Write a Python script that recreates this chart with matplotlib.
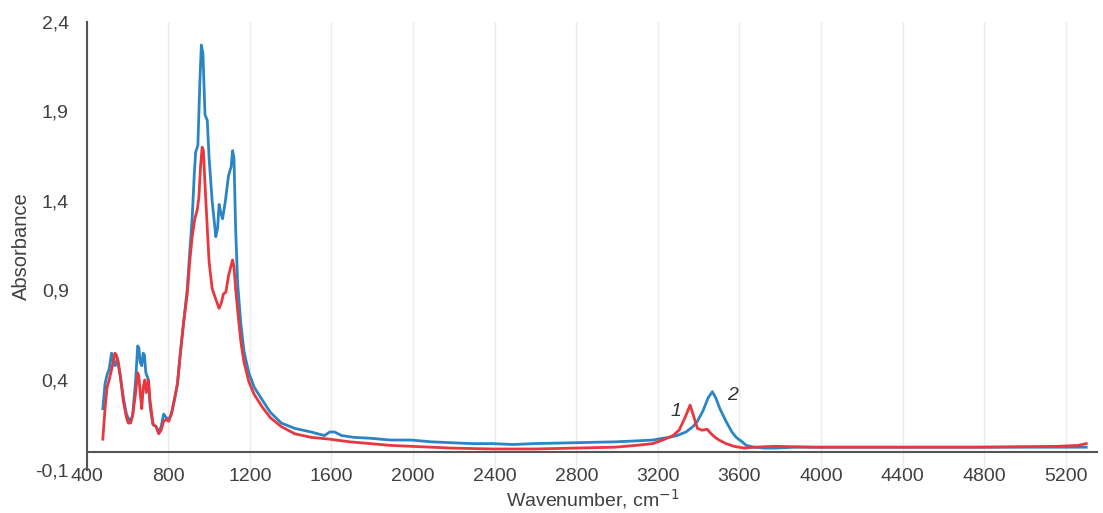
import matplotlib
matplotlib.use("Agg")
import matplotlib.pyplot as plt
from matplotlib.ticker import FuncFormatter

plt.rcParams['font.family'] = ['Liberation Sans', 'DejaVu Sans']

# sample 2 (blue)
wn_2 = [479, 490, 500, 510, 522, 530, 540, 550, 565, 580, 595, 610, 625, 640, 650, 656,
        662, 670, 677, 683, 690, 700, 712, 725, 740, 753, 765, 777, 790, 802, 815, 830,
        845, 860, 875, 893, 905, 917, 927, 934, 945, 955, 962, 970, 980, 991, 1000, 1015,
        1033, 1042, 1049, 1058, 1066, 1080, 1095, 1108, 1115, 1122, 1130, 1140, 1155, 1171,
        1195, 1221, 1260, 1300, 1354, 1420, 1500, 1565, 1592, 1615, 1650, 1710, 1790, 1890,
        1990, 2090, 2190, 2290, 2390, 2490, 2590, 2790, 2990, 3090, 3175, 3224, 3256, 3294,
        3338, 3372, 3394, 3422, 3446, 3467, 3484, 3504, 3534, 3563, 3584, 3613, 3633, 3672,
        3722, 3772, 3870, 3970, 4170, 4370, 4570, 4770, 4960, 5160, 5300]
abs_2 = [0.24, 0.38, 0.43, 0.46, 0.55, 0.50, 0.48, 0.52, 0.42, 0.30, 0.21, 0.17, 0.20, 0.40, 0.59, 0.58,
         0.50, 0.48, 0.55, 0.54, 0.44, 0.41, 0.24, 0.15, 0.14, 0.11, 0.14, 0.21, 0.19, 0.18, 0.21, 0.29,
         0.38, 0.56, 0.72, 0.91, 1.11, 1.30, 1.54, 1.67, 1.71, 2.07, 2.27, 2.22, 1.88, 1.85, 1.64, 1.40,
         1.20, 1.25, 1.38, 1.33, 1.30, 1.40, 1.54, 1.59, 1.68, 1.64, 1.25, 0.94, 0.72, 0.56,
         0.44, 0.36, 0.29, 0.22, 0.16, 0.13, 0.11, 0.09, 0.11, 0.11, 0.09, 0.08, 0.075, 0.065,
         0.065, 0.055, 0.05, 0.045, 0.045, 0.04, 0.045, 0.05, 0.055, 0.06, 0.065, 0.075, 0.08, 0.09,
         0.11, 0.14, 0.17, 0.23, 0.30, 0.335, 0.30, 0.24, 0.17, 0.11, 0.08, 0.055, 0.035, 0.025,
         0.02, 0.02, 0.025, 0.025, 0.025, 0.025, 0.025, 0.025, 0.025, 0.025, 0.025]

# sample 1 (red)
wn_1 = [479, 490, 500, 510, 522, 530, 538, 545, 555, 565, 580, 595, 604, 615, 625, 640,
        650, 656, 662, 670, 677, 685, 692, 703, 710, 725, 740, 753, 765, 777, 790, 802,
        815, 830, 845, 860, 875, 893, 905, 917, 930, 942, 950, 958, 966, 972, 980, 991,
        1000, 1015, 1033, 1049, 1060, 1070, 1082, 1095, 1108, 1115, 1122, 1130, 1140, 1155,
        1171, 1195, 1221, 1260, 1300, 1354, 1420, 1500, 1590, 1690, 1790, 1890, 1990, 2190,
        2390, 2590, 2790, 2990, 3090, 3175, 3224, 3274, 3304, 3333, 3358, 3372, 3394, 3417,
        3442, 3461, 3481, 3500, 3534, 3573, 3623, 3672, 3770, 3970, 4370, 4760, 5160, 5260, 5300]
abs_1 = [0.07, 0.24, 0.36, 0.40, 0.46, 0.50, 0.55, 0.54, 0.50, 0.42, 0.28, 0.19, 0.16, 0.16, 0.20, 0.33,
         0.44, 0.42, 0.33, 0.24, 0.36, 0.40, 0.33, 0.40, 0.29, 0.155, 0.14, 0.10, 0.12, 0.17, 0.18, 0.17,
         0.21, 0.29, 0.38, 0.56, 0.72, 0.88, 1.06, 1.20, 1.30, 1.35, 1.42, 1.59, 1.70, 1.68, 1.49, 1.25,
         1.06, 0.91, 0.85, 0.80, 0.83, 0.88, 0.89, 0.98, 1.04, 1.07, 1.03, 0.91, 0.79, 0.62,
         0.50, 0.39, 0.32, 0.25, 0.19, 0.14, 0.10, 0.08, 0.07, 0.055, 0.045, 0.035, 0.03, 0.02,
         0.015, 0.015, 0.02, 0.025, 0.035, 0.045, 0.065, 0.09, 0.12, 0.19, 0.26, 0.21, 0.13, 0.12,
         0.125, 0.10, 0.08, 0.065, 0.045, 0.03, 0.02, 0.025, 0.03, 0.025, 0.025, 0.025, 0.03, 0.035, 0.045]

x_ticks = list(range(400, 5201, 400))
y_ticks = [-0.1, 0.4, 0.9, 1.4, 1.9, 2.4]

fig = plt.figure(figsize=(11.03, 5.13), dpi=100)
ax = fig.add_axes([0.0786, 0.0846, 0.9173, 0.8731])

ax.plot(wn_2, abs_2, color='#2b85c4', lw=2.0, zorder=3)
ax.plot(wn_1, abs_1, color='#e8383f', lw=2.0, zorder=4)
ax.axhline(0, color='#555555', lw=1.5, zorder=2.5)

ax.set_xlim(400, 5360)
ax.set_ylim(-0.1, 2.4)
ax.set_xticks(x_ticks)
ax.set_yticks(y_ticks)
ax.yaxis.set_major_formatter(FuncFormatter(lambda v, p: ('%.1f' % v).replace('.', ',')))
ax.grid(axis='x', color='#ebebeb', lw=1)
ax.tick_params(length=0, labelsize=14, labelcolor='#404040')
ax.tick_params(axis='x', pad=-1)
ax.tick_params(axis='y', pad=13)
for s in ['top', 'right', 'bottom']:
    ax.spines[s].set_visible(False)
ax.spines['left'].set_color('#555555')
ax.spines['left'].set_linewidth(1.5)

ax.set_xlabel('Wavenumber, cm$^{-1}$', fontsize=14, color='#404040', labelpad=1)
ax.set_ylabel('Absorbance', fontsize=14.5, color='#404040', labelpad=3)

ax.text(3264, 0.20, '1', fontsize=14, style='italic', color='#333333')
ax.text(3538, 0.29, '2', fontsize=14, style='italic', color='#333333')

fig.savefig('out.png', dpi=100)
